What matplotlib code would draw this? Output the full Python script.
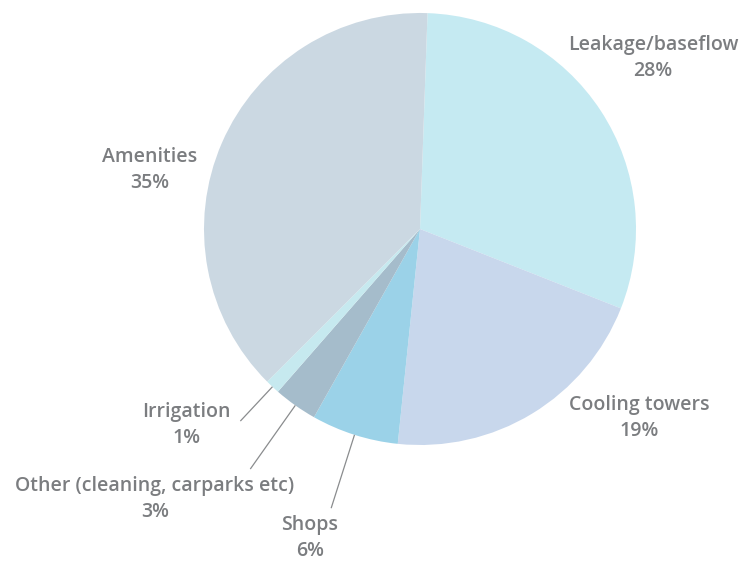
import numpy as np
import matplotlib
matplotlib.use("Agg")
import matplotlib.pyplot as plt

# Water use breakdown
categories = ["Leakage/baseflow", "Cooling towers", "Shops",
              "Other (cleaning, carparks etc)", "Irrigation", "Amenities"]
shares = [28, 19, 6, 3, 1, 35]
pct_labels = ["28%", "19%", "6%", "3%", "1%", "35%"]
colors = ["#c5eaf2", "#c8d7ec", "#9bd2e8", "#a5bccb", "#c6e9ef", "#cbd8e2"]

TEXT = "#7b7d80"
W, H = 742, 562
CX, CY, R = 420, H - 229, 216

fig = plt.figure(figsize=(W / 100, H / 100), dpi=100)
ax = fig.add_axes([0, 0, 1, 1])

wedges, _ = ax.pie(shares, colors=colors, startangle=88, counterclock=False,
                   center=(CX, CY), radius=R, frame=True,
                   wedgeprops=dict(linewidth=0))
ax.set_xlim(0, W)
ax.set_ylim(0, H)
ax.set_aspect("equal")
ax.axis("off")

# label anchor positions (figure pixels, y down) and leader lengths
label_pos = {
    "Leakage/baseflow": (653, 58),
    "Cooling towers": (639, 418),
    "Shops": (310, 538),
    "Other (cleaning, carparks etc)": (155, 499),
    "Irrigation": (186, 425),
    "Amenities": (150, 170),
}
leader_out = {"Shops": 293, "Other (cleaning, carparks etc)": 294, "Irrigation": 263}

for w, name, pct in zip(wedges, categories, pct_labels):
    px, py = label_pos[name]
    ax.text(px, H - py, f"{name}\n{pct}", ha="center", va="center",
            color=TEXT, fontsize=14, fontfamily="Open Sans",
            fontweight="semibold", linespacing=1.38)
    if name in leader_out:
        mid = np.deg2rad((w.theta1 + w.theta2) / 2)
        r0, r1 = R, leader_out[name]
        ax.plot([CX + r0 * np.cos(mid), CX + r1 * np.cos(mid)],
                [CY + r0 * np.sin(mid), CY + r1 * np.sin(mid)],
                color="#8a8c8e", linewidth=0.9, solid_capstyle="butt")

fig.savefig("out.png", dpi=100, facecolor="white")
